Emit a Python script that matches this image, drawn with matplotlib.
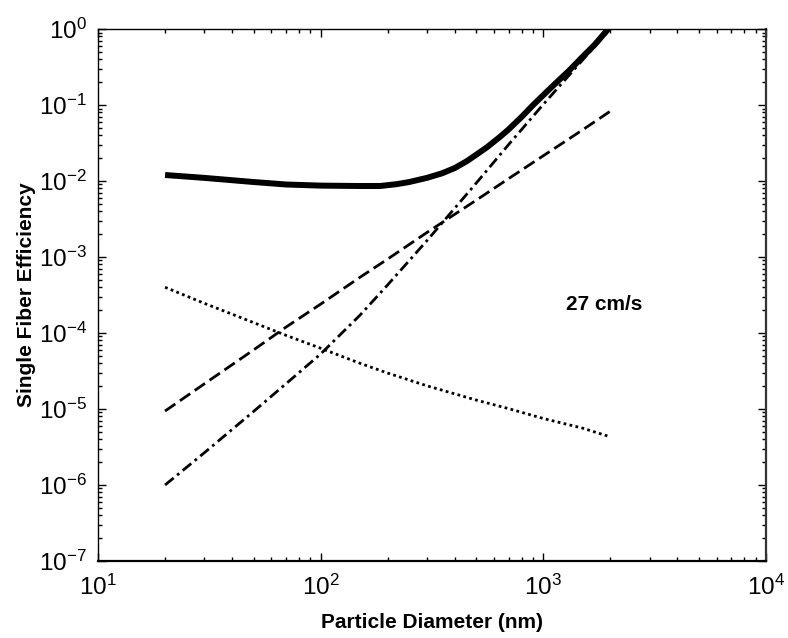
import matplotlib
matplotlib.use("Agg")
import matplotlib.pyplot as plt
from matplotlib.ticker import LogLocator, NullFormatter

plt.rcParams['font.family'] = ['Liberation Sans', 'DejaVu Sans']
plt.rcParams['mathtext.fontset'] = 'custom'
plt.rcParams['mathtext.rm'] = 'Liberation Sans'
plt.rcParams['mathtext.it'] = 'Liberation Sans:italic'
plt.rcParams['mathtext.bf'] = 'Liberation Sans:bold'

# Data (particle diameter in nm)
total_diameter = [20, 30, 50, 70, 100, 150, 185, 220, 250, 300, 350, 400, 454, 500,
                  560, 638, 700, 800, 900, 1000, 1150, 1300, 1500, 1700, 2000]
total_eff = [0.012, 0.011, 0.0097, 0.0090, 0.0087, 0.0086, 0.0086, 0.0091, 0.0097,
             0.0110, 0.0126, 0.0148, 0.0183, 0.0222, 0.028, 0.038, 0.048, 0.070,
             0.100, 0.135, 0.20, 0.28, 0.43, 0.62, 1.08]

diameter = [20, 30, 50, 70, 100, 150, 200, 300, 500, 700, 1000, 1500, 2000]
interception = [9.4e-6, 2.14e-5, 6.0e-5, 1.2e-4, 2.4e-4, 5.4e-4, 9.4e-4, 2.1e-3,
                5.6e-3, 1.08e-2, 0.0215, 0.047, 0.083]
impaction = [1.0e-6, 2.65e-6, 9.3e-6, 2.16e-5, 5.3e-5, 1.71e-4, 4.3e-4, 1.64e-3,
             9.4e-3, 0.0304, 0.102, 0.39, 1.0]
diffusion = [4.0e-4, 2.46e-4, 1.37e-4, 9.3e-5, 6.3e-5, 4.0e-5, 2.97e-5, 2.02e-5,
             1.31e-5, 1.01e-5, 7.5e-6, 5.6e-6, 4.3e-6]

fig = plt.figure(figsize=(7.88, 6.38), dpi=100)
ax = fig.add_axes([0.1244, 0.1207, 0.8476, 0.8338])

ax.plot(total_diameter, total_eff, color='black', lw=4.3, solid_capstyle='butt',
        solid_joinstyle='round')
ax.plot(diameter, interception, color='black', lw=2.0, linestyle=(0, (4.5, 2)))
ax.plot(diameter, impaction, color='black', lw=2.0, linestyle=(0, (4, 1.6, 1, 1.6)))
ax.plot(diameter, diffusion, color='black', lw=2.0, linestyle=(0, (1, 1.2)))

ax.set_xscale('log')
ax.set_yscale('log')
ax.set_xlim(10, 1e4)
ax.set_ylim(1e-7, 1)

ax.xaxis.set_major_locator(LogLocator(base=10, numticks=10))
ax.yaxis.set_major_locator(LogLocator(base=10, numticks=20))
ax.xaxis.set_minor_locator(LogLocator(base=10, subs=range(2, 10), numticks=20))
ax.yaxis.set_minor_locator(LogLocator(base=10, subs=range(2, 10), numticks=20))
ax.xaxis.set_minor_formatter(NullFormatter())
ax.yaxis.set_minor_formatter(NullFormatter())

ax.tick_params(which='both', direction='in', top=True, right=True, color='black')
ax.tick_params(which='major', length=6, width=1, labelsize=17.5)
ax.tick_params(axis='x', which='major', pad=10)
ax.tick_params(axis='y', which='major', pad=8)
ax.tick_params(which='minor', length=3, width=1)

for side in ['left', 'top']:
    ax.spines[side].set_linewidth(1.0)
for side in ['right', 'bottom']:
    ax.spines[side].set_linewidth(1.6)
ax.spines['right'].set_color('#333333')

ax.set_xlabel('Particle Diameter (nm)', fontsize=15, fontweight='bold', labelpad=9)
ax.set_ylabel('Single Fiber Efficiency', fontsize=15, fontweight='bold', labelpad=2)

ax.text(1870, 2.37e-4, '27 cm/s', fontsize=15, fontweight='bold',
        ha='center', va='center')

fig.savefig('out.png', dpi=100)
